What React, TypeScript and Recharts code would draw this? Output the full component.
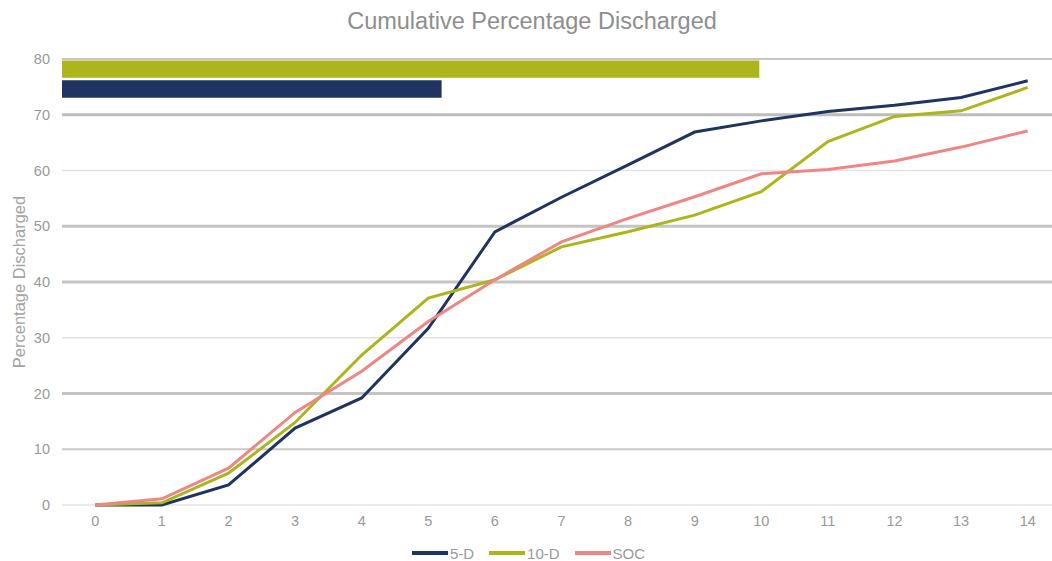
import React from 'react';
import { LineChart, Line, XAxis, YAxis, ReferenceLine, ReferenceArea } from 'recharts';

const xCategories = [0, 1, 2, 3, 4, 5, 6, 7, 8, 9, 10, 11, 12, 13, 14];
const series5D = [0, 0, 3.6, 13.8, 19.2, 31.7, 49, 55.2, 61, 66.9, 68.9, 70.6, 71.7, 73.1, 76.1];
const series10D = [0, 0.4, 5.7, 14.8, 26.9, 37.1, 40.4, 46.3, 49, 52, 56.2, 65.2, 69.7, 70.7, 74.9];
const seriesSOC = [0, 1.1, 6.6, 16.6, 24, 32.9, 40.4, 47.2, 51.4, 55.3, 59.4, 60.2, 61.7, 64.2, 67.1];
const yTicks = [0, 10, 20, 30, 40, 50, 60, 70, 80];
const seriesNames = ['5-D', '10-D', 'SOC'];
// stray horizontal bars at the top of the plot (x range, y range in data units)
const overlayBarNames = ['10-D', '5-D'];
const overlayBarX = [[-0.5, 9.97], [-0.5, 5.2]];
const overlayBarY = [[76.65, 79.75], [73.05, 76.2]];

const colors: Record<string, string> = { '5-D': '#1f3461', '10-D': '#acb51b', SOC: '#f08585' };
const gridStyle: Record<number, { w: number; c: string }> = {
  0: { w: 1.5, c: '#e3e3e3' },
  10: { w: 2, c: '#c9c9c9' },
  20: { w: 3, c: '#c4c4c4' },
  30: { w: 1.5, c: '#e0e0e0' },
  40: { w: 3, c: '#c4c4c4' },
  50: { w: 3, c: '#c4c4c4' },
  60: { w: 1.5, c: '#e3e3e3' },
  70: { w: 3, c: '#bdbdbd' },
  80: { w: 2, c: '#c6c6c6' },
};

const data = xCategories.map((x, i) => ({
  x,
  '5-D': series5D[i],
  '10-D': series10D[i],
  SOC: seriesSOC[i],
}));

const FONT = '"Liberation Sans", Arial, sans-serif';

const YLabel = (props: any) => {
  const vb = props.viewBox || {};
  const cx = 19;
  const cy = vb.y + vb.height / 2;
  return (
    <text
      x={cx}
      y={cy}
      transform={`rotate(-90 ${cx} ${cy})`}
      textAnchor="middle"
      dominantBaseline="central"
      fill="#a3a3a3"
      fontSize={16.5}
      fontFamily={FONT}
    >
      Percentage Discharged
    </text>
  );
};

export default function App() {
  return (
    <div style={{ position: 'absolute', left: 0, top: 0, width: 1052, height: 561, overflow: 'hidden', background: '#fff', fontFamily: FONT }}>
      <div style={{ position: 'absolute', top: 8, left: 0, width: 1064, textAlign: 'center', fontSize: 23.5, color: '#8e8e8e' }}>
        Cumulative Percentage Discharged
      </div>
      <div style={{ position: 'absolute', left: 0, top: 0 }}>
        <LineChart width={1075} height={561} data={data} margin={{ top: 59, right: 14, bottom: 26, left: 0 }}>
          <XAxis
            dataKey="x"
            type="number"
            domain={[-0.5, 14.5]}
            ticks={xCategories}
            axisLine={false}
            tickLine={false}
            tickSize={0}
            tickMargin={11}
            height={30}
            interval={0}
            tick={{ fill: '#999999', fontSize: 14.5, fontFamily: FONT }}
          />
          <YAxis
            type="number"
            domain={[0, 80]}
            ticks={yTicks}
            axisLine={false}
            tickLine={false}
            tickSize={0}
            tickMargin={12}
            width={62}
            interval={0}
            tick={{ fill: '#999999', fontSize: 14.5, fontFamily: FONT }}
            label={{ content: YLabel }}
          />
          {yTicks.map((t) => (
            <ReferenceLine key={t} y={t} stroke={gridStyle[t].c} strokeWidth={gridStyle[t].w} />
          ))}
          {overlayBarNames.map((n, i) => (
            <ReferenceArea
              key={n}
              x1={overlayBarX[i][0]}
              x2={overlayBarX[i][1]}
              y1={overlayBarY[i][0]}
              y2={overlayBarY[i][1]}
              fill={colors[n]}
              fillOpacity={1}
              stroke="none"
            />
          ))}
          {seriesNames.map((n) => (
            <Line
              key={n}
              dataKey={n}
              type="linear"
              stroke={colors[n]}
              strokeWidth={3}
              dot={false}
              activeDot={false}
              isAnimationActive={false}
            />
          ))}
        </LineChart>
      </div>
      <div style={{ position: 'absolute', top: 545, left: 0, width: 1072, display: 'flex', justifyContent: 'center', fontSize: 15, color: '#9a9a9a' }}>
        {seriesNames.map((n) => (
          <div key={n} style={{ display: 'flex', alignItems: 'center', marginRight: 15, height: 16 }}>
            <span style={{ display: 'inline-block', width: 36, height: 4, background: colors[n], marginRight: 2 }} />
            <span>{n}</span>
          </div>
        ))}
      </div>
    </div>
  );
}
